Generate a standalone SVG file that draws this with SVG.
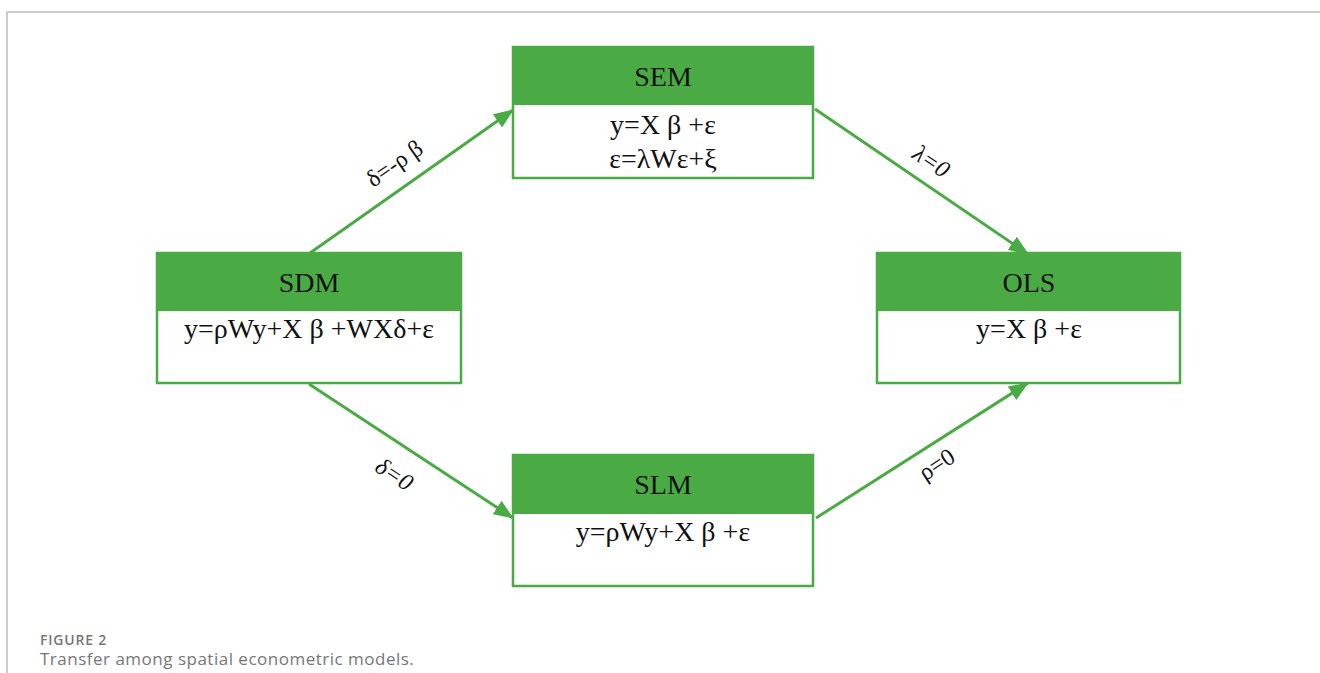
<svg xmlns="http://www.w3.org/2000/svg" width="1320" height="673" viewBox="0 0 1320 673">
<defs>
<marker id="arr" viewBox="0 0 20 16" refX="19" refY="8" markerWidth="20" markerHeight="16" orient="auto" markerUnits="userSpaceOnUse">
<path d="M0,0 L20,8 L0,16 z" fill="#4aab44"/>
</marker>
</defs>
<style>
.frame{stroke:#bdbdbd;stroke-width:1.5;fill:none}
.box{fill:#fff;stroke:#4aab44;stroke-width:2.5}
.hdr{fill:#4aab44}
.t{font-family:"Liberation Serif","Times New Roman",serif;font-size:28px;fill:#111;text-anchor:middle}
.conn{stroke:#4aab44;stroke-width:3;fill:none;marker-end:url(#arr)}
.lbl{font-family:"Liberation Serif","Times New Roman",serif;font-size:24px;fill:#111;text-anchor:middle}
.cap1{font-family:"Open Sans","Noto Sans",sans-serif;font-size:14px;font-weight:600;letter-spacing:0.8px;fill:#777}
.cap2{font-family:"Open Sans","Noto Sans",sans-serif;font-size:17px;letter-spacing:0.5px;fill:#777}
</style>
<rect width="1320" height="673" fill="#fff"/>
<path class="frame" d="M7,673 V12 H1320"/>
<g id="connectors">
<line class="conn" x1="310" y1="253" x2="513" y2="110"/>
<line class="conn" x1="815" y1="109" x2="1028" y2="254"/>
<line class="conn" x1="309" y1="384" x2="513" y2="518"/>
<line class="conn" x1="816" y1="518" x2="1028" y2="383"/>
<text class="lbl" transform="translate(399,170) rotate(-35)">δ=-ρ β</text>
<text class="lbl" font-style="italic" transform="translate(927,168) rotate(34)">λ=0</text>
<text class="lbl" font-style="italic" transform="translate(390,481) rotate(33)">δ=0</text>
<text class="lbl" transform="translate(941,471) rotate(-33)">ρ=0</text>
</g>
<g id="SEM">
<rect class="box" x="513" y="47" width="300" height="131"/>
<rect class="hdr" x="513" y="47" width="300" height="58"/>
<text class="t" x="663" y="86">SEM</text>
<text class="t" x="663" y="134">y=X β +ε</text>
<text class="t" x="663" y="168">ε=λWε+ξ</text>
</g>
<g id="SDM">
<rect class="box" x="157" y="253" width="304" height="130"/>
<rect class="hdr" x="157" y="253" width="304" height="58"/>
<text class="t" x="309" y="292">SDM</text>
<text class="t" x="309" y="338">y=ρWy+X β +WXδ+ε</text>
</g>
<g id="OLS">
<rect class="box" x="877" y="253" width="303" height="130"/>
<rect class="hdr" x="877" y="253" width="303" height="58"/>
<text class="t" x="1029" y="292">OLS</text>
<text class="t" x="1029" y="338">y=X β +ε</text>
</g>
<g id="SLM">
<rect class="box" x="513" y="455" width="300" height="131"/>
<rect class="hdr" x="513" y="455" width="300" height="59"/>
<text class="t" x="663" y="494">SLM</text>
<text class="t" x="663" y="541">y=ρWy+X β +ε</text>
</g>
<text class="cap1" x="40" y="645">FIGURE 2</text>
<text class="cap2" x="40" y="665">Transfer among spatial econometric models.</text>
</svg>
